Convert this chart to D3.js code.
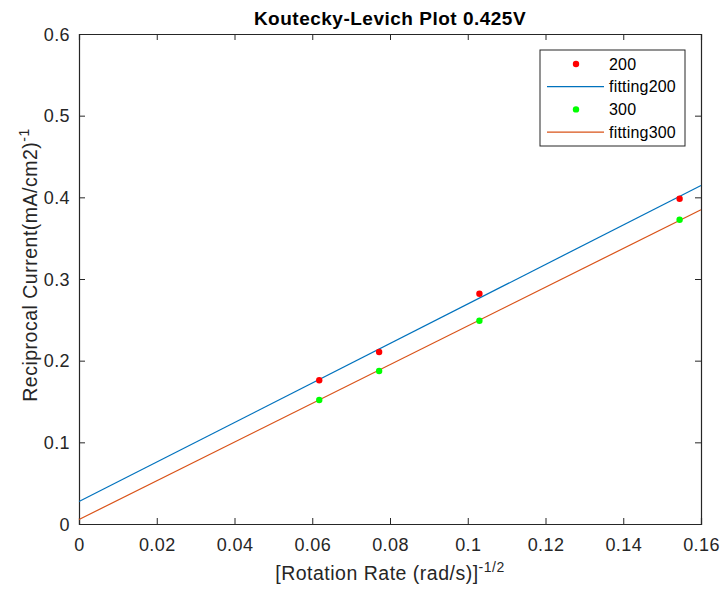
<!DOCTYPE html>
<html>
<head>
<meta charset="utf-8">
<script src="https://cdn.jsdelivr.net/npm/d3@7"></script>
<style>
  body { margin:0; background:#fff; }
  text { font-family: "Liberation Sans", Arial, sans-serif; fill:#262626; }
</style>
</head>
<body>
<div id="chart"></div>
<script>
// rotation rate^-1/2 for each measurement
var rateX = [0.0618, 0.0772, 0.1030, 0.1545];
var current200 = [0.1760, 0.2106, 0.2820, 0.3983];
var current300 = [0.1518, 0.1873, 0.2489, 0.3726];

// fitted line ends
var fitX = [0, 0.16];
var fit200 = [0.0275, 0.4145];
var fit300 = [0.0055, 0.3848];

var xTicks = [0, 0.02, 0.04, 0.06, 0.08, 0.1, 0.12, 0.14, 0.16];
var yTicks = [0, 0.1, 0.2, 0.3, 0.4, 0.5, 0.6];

var W = 722, H = 590;
var margin = {top:34, right:21, bottom:66, left:79};
var w = W - margin.left - margin.right, h = H - margin.top - margin.bottom;

var svg = d3.select("#chart").append("svg").attr("width",W).attr("height",H);
var g = svg.append("g").attr("transform","translate("+margin.left+","+margin.top+")");

var x = d3.scaleLinear().domain([0,0.16]).range([0,w]);
var y = d3.scaleLinear().domain([0,0.6]).range([h,0]);

var tickLen = 6;
var axisCol = "#262626";

// axes, ticks pointing inward like matlab
var xAx = g.append("g").attr("transform","translate(0,"+h+")")
  .call(d3.axisBottom(x).tickValues(xTicks).tickSize(-tickLen).tickPadding(11)
    .tickFormat(function(d) { return d===0 ? "0" : String(+d.toFixed(2)); }));
var xTop = g.append("g")
  .call(d3.axisTop(x).tickValues(xTicks).tickSize(-tickLen).tickFormat(""));
var yAx = g.append("g")
  .call(d3.axisLeft(y).tickValues(yTicks).tickSize(-tickLen).tickPadding(9)
    .tickFormat(function(d) { return d===0 ? "0" : String(+d.toFixed(1)); }));
var yRight = g.append("g").attr("transform","translate("+w+",0)")
  .call(d3.axisRight(y).tickValues(yTicks).tickSize(-tickLen).tickFormat(""));

[xAx,xTop,yAx,yRight].forEach(function(a) {
  a.select(".domain").attr("stroke",axisCol).attr("stroke-width",1.2);
  a.selectAll(".tick line").attr("stroke",axisCol);
  a.selectAll(".tick text").style("font-size","18px").attr("fill",axisCol)
    .style("letter-spacing","0.4px")
    .style("font-family",'"Liberation Sans", Arial, sans-serif');
});
xAx.selectAll(".tick text").attr("dy","0.9em");
yAx.selectAll(".tick text").attr("dy","0.35em");

// fitted lines
var line = d3.line().x(function(d) { return x(d[0]); }).y(function(d) { return y(d[1]); });
g.append("path").datum(d3.zip(fitX,fit200)).attr("d",line)
  .attr("fill","none").attr("stroke","#0072BD").attr("stroke-width",1.2);
g.append("path").datum(d3.zip(fitX,fit300)).attr("d",line)
  .attr("fill","none").attr("stroke","#D95319").attr("stroke-width",1.2);

// measured points
g.selectAll("circle.p200").data(d3.zip(rateX,current200)).enter()
  .append("circle").attr("class","p200")
  .attr("cx",function(d) { return x(d[0]); })
  .attr("cy",function(d) { return y(d[1]); })
  .attr("r",3.2).attr("fill","#FF0000");
g.selectAll("circle.p300").data(d3.zip(rateX,current300)).enter()
  .append("circle").attr("class","p300")
  .attr("cx",function(d) { return x(d[0]); })
  .attr("cy",function(d) { return y(d[1]); })
  .attr("r",3.2).attr("fill","#00FF00");

// title + labels
svg.append("text").attr("x",margin.left+w/2).attr("y",25)
  .attr("text-anchor","middle").style("font-size","19px").style("font-weight","bold")
  .style("letter-spacing","0.5px").style("fill","#000")
  .text("Koutecky-Levich Plot 0.425V");

var xl = svg.append("text").attr("x",margin.left+w/2).attr("y",580)
  .attr("text-anchor","middle").style("font-size","19.5px").style("letter-spacing","0.5px");
xl.append("tspan").text("[Rotation Rate (rad/s)]");
xl.append("tspan").attr("dy",-8).style("font-size","14px").text("-1/2");

var yl = svg.append("text")
  .attr("transform","translate(37,265) rotate(-90)")
  .attr("text-anchor","middle").style("font-size","19.5px").style("letter-spacing","0.5px");
yl.append("tspan").text("Reciprocal Current(mA/cm2)");
yl.append("tspan").attr("dy",-8).style("font-size","14px").text("-1");

// legend
var legendItems = [
  {name:"200", type:"dot", col:"#FF0000"},
  {name:"fitting200", type:"line", col:"#0072BD"},
  {name:"300", type:"dot", col:"#00FF00"},
  {name:"fitting300", type:"line", col:"#D95319"}
];
var lg = svg.append("g").attr("transform","translate(540,50)");
lg.append("rect").attr("width",145).attr("height",96)
  .attr("fill","#fff").attr("stroke","#262626").attr("stroke-width",1);
var rows = lg.selectAll("g.item").data(legendItems).enter().append("g")
  .attr("class","item")
  .attr("transform",function(d,i) { return "translate(0,"+(14+i*22.7)+")"; });
rows.each(function(d) {
  var r = d3.select(this);
  if(d.type=="dot") {
    r.append("circle").attr("cx",36).attr("cy",0).attr("r",3.2).attr("fill",d.col);
  } else {
    r.append("line").attr("x1",7).attr("x2",64).attr("y1",0).attr("y2",0)
      .attr("stroke",d.col).attr("stroke-width",1.2);
  }
  r.append("text").attr("x",69).attr("y",0).attr("dy","0.35em")
    .style("font-size","16px").style("letter-spacing","0.2px")
    .style("fill","#000").text(d.name);
});
</script>
</body>
</html>
